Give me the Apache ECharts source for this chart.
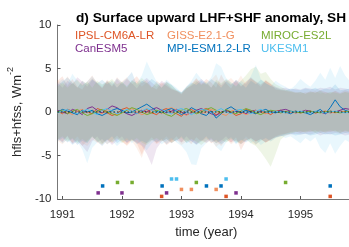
<!DOCTYPE html>
<html>
<head>
<meta charset="UTF-8">
<title>LHF+SHF anomaly SH</title>
<script src="https://cdn.jsdelivr.net/npm/echarts@6/dist/echarts.min.js"></script>
<style>
    html, body { margin: 0; padding: 0; background: #fff; }
    #chart { width: 349px; height: 247px; }
</style>
</head>
<body>
<div id="chart"></div>
<script>
// model names, in legend order (column by column)
var models = ['IPSL-CM6A-LR', 'CanESM5', 'GISS-E2.1-G', 'MPI-ESM1.2-LR', 'MIROC-ES2L', 'UKESM1'];
var colors = ['#DE5526', '#7E2F8E', '#F08F5E', '#0072BD', '#77AC30', '#4DBEEE'];
var xTicks = [1991, 1992, 1993, 1994, 1995];

// monthly time axis, Dec 1990 .. Dec 1995
var startYear = 1990 + 11 / 12;
var nMonths = 61;

// ensemble spread: upper / lower bounds per model (W m-2)
var upper = {
    'IPSL-CM6A-LR': [3.6,4.1,3.0,3.8,2.9,2.6,3.5,4.2,3.3,2.7, 3.6,3.0,4.0,3.4,2.8,3.6,4.1,3.3,3.7,2.9, 2.6,3.4,3.0,2.6,2.4,2.0,2.7,3.1,3.9,3.2, 3.8,3.4,2.8,4.3,3.3,2.7,3.7,3.0,3.5,3.9, 3.4,2.9,3.6,3.2,2.6,2.5,2.4,2.3,2.2,2.3, 2.1,2.4,2.2,2.5,2.3,2.1,2.4,2.2,2.5,2.3,2.2],
    'CanESM5':      [3.4,2.8,3.6,3.2,4.0,3.5,2.9,3.7,3.3,2.8, 3.5,2.9,3.8,3.2,3.8,3.3,2.7,3.5,3.9,3.4, 2.9,3.6,3.2,2.7,2.4,2.2,2.7,3.0,3.4,3.8, 3.3,2.8,3.5,3.1,3.7,3.2,3.6,2.9,3.4,4.0, 3.5,3.1,3.6,3.2,2.9,2.7,2.8,2.6,2.7,2.6, 2.8,2.7,2.6,2.8,2.7,2.9,2.6,2.8,2.7,2.6,2.8],
    'GISS-E2.1-G':  [3.7,3.1,4.1,3.3,2.8,3.6,3.2,3.9,3.4,2.9, 3.7,3.3,2.8,3.5,4.0,3.2,3.6,2.9,3.4,2.8, 3.6,3.2,3.5,2.8,2.5,2.1,2.9,3.3,3.8,3.4, 3.1,3.7,4.3,3.0,3.5,3.9,3.3,4.2,3.2,3.8, 3.5,3.2,3.7,3.3,2.8,2.6,2.5,2.4,2.3,2.1, 2.3,2.2,2.4,2.1,2.3,2.2,2.4,2.1,2.3,2.2,2.1],
    'MPI-ESM1.2-LR':[3.1,3.5,4.0,3.4,2.8,3.6,3.2,3.8,3.3,3.7, 3.2,3.6,2.8,3.4,3.9,4.6,3.1,3.6,3.3,3.8, 3.4,2.8,3.5,3.1,2.6,2.3,2.9,3.4,3.1,3.6, 3.2,3.8,3.4,2.8,3.5,3.1,3.7,3.3,2.8,3.6, 3.2,3.7,3.3,3.0,2.8,2.6,2.5,2.7,2.6,2.5, 2.7,2.6,2.8,2.5,2.7,2.6,3.2,2.5,2.6,2.7,2.5],
    'MIROC-ES2L':   [2.9,3.4,2.8,3.3,3.7,3.1,3.5,2.8,3.6,3.2, 3.4,3.8,3.2,3.5,2.9,3.6,3.3,3.9,3.4,2.8, 3.3,2.8,3.4,3.1,2.5,2.2,2.8,3.2,3.6,3.1, 3.5,2.8,3.7,3.3,3.8,3.4,2.9,3.6,4.2,4.9, 5.2,4.4,4.6,3.8,3.2,2.9,2.6,2.4,2.2,2.3, 2.1,2.3,2.2,2.4,2.1,2.3,2.2,2.1,2.3,2.2,2.1],
    'UKESM1':       [3.3,3.8,3.2,4.4,3.6,3.0,3.5,4.1,3.4,3.1, 3.6,3.2,3.9,3.4,3.0,3.7,3.3,4.2,5.8,4.6, 3.5,3.1,3.7,3.2,2.8,2.2,2.9,3.6,4.5,3.8, 3.3,4.0,5.6,5.2,3.9,3.4,3.0,3.6,3.2,4.1, 5.4,3.8,3.3,3.0,3.6,3.2,2.9,2.6,3.1,3.8, 3.3,2.9,3.6,4.5,3.7,5.1,3.9,5.3,4.2,3.5,4.0]
};
var lower = {
    'IPSL-CM6A-LR': [-3.0,-3.4,-2.7,-3.6,-3.2,-3.9,-3.3,-2.8,-3.5,-3.1, -3.7,-3.3,-2.7,-3.4,-3.8,-3.2,-3.6,-4.9,-3.5,-2.9, -3.6,-3.2,-3.8,-3.4,-2.8,-3.5,-3.2,-3.7,-2.9,-3.4, -3.0,-3.6,-3.3,-3.9,-3.2,-3.5,-2.9,-4.4,-3.3,-3.0, -3.4,-3.1,-3.5,-3.2,-2.8,-2.6,-2.5,-2.3,-2.2,-2.4, -2.2,-2.3,-2.1,-2.4,-2.2,-2.3,-2.1,-2.4,-2.2,-2.3,-2.2],
    'CanESM5':      [-3.1,-3.5,-2.8,-3.7,-3.3,-3.9,-4.6,-3.4,-2.8,-3.6, -3.2,-3.8,-3.3,-2.8,-3.6,-3.2,-3.5,-3.9,-4.8,-6.1, -4.2,-3.4,-3.1,-3.6,-3.2,-3.5,-2.8,-3.4,-3.7,-3.2, -3.5,-3.1,-3.6,-3.3,-2.8,-3.5,-3.2,-3.7,-3.3,-3.0, -3.4,-3.1,-3.5,-3.2,-2.9,-2.8,-2.7,-2.6,-2.5,-2.6, -2.5,-2.6,-2.4,-2.7,-2.5,-2.6,-2.4,-2.5,-2.7,-2.6,-2.5],
    'GISS-E2.1-G':  [-3.3,-3.7,-3.1,-3.5,-2.8,-3.6,-3.9,-3.2,-3.5,-3.8, -3.2,-3.6,-3.1,-3.4,-3.9,-3.3,-4.2,-5.3,-3.6,-3.2, -3.7,-3.3,-2.8,-3.5,-3.2,-3.8,-3.4,-3.1,-3.7,-3.3, -3.6,-3.2,-4.0,-3.5,-3.1,-3.7,-3.3,-3.6,-2.8,-3.4, -3.8,-3.2,-3.5,-3.1,-2.9,-2.7,-2.5,-2.4,-2.3,-2.2, -2.4,-2.2,-2.3,-2.1,-2.4,-2.2,-2.3,-2.1,-2.4,-2.2,-2.3],
    'MPI-ESM1.2-LR':[-3.4,-3.0,-3.5,-3.1,-3.8,-3.3,-3.6,-2.8,-3.4,-3.9, -3.3,-2.8,-3.6,-3.2,-3.5,-3.1,-3.7,-3.3,-3.6,-3.2, -3.5,-3.1,-3.7,-3.2,-3.4,-2.8,-3.6,-3.3,-3.8,-3.4, -2.8,-3.5,-3.2,-3.7,-3.3,-2.9,-3.6,-3.2,-3.5,-3.1, -3.7,-3.3,-3.0,-3.4,-3.0,-2.8,-2.6,-2.5,-2.7,-2.6, -2.5,-2.7,-2.6,-2.4,-2.6,-2.5,-2.7,-2.6,-2.4,-2.5,-2.6],
    'MIROC-ES2L':   [-3.2,-2.8,-3.4,-3.0,-3.6,-3.1,-3.5,-2.9,-3.3,-3.7, -3.1,-3.5,-3.0,-3.6,-3.2,-3.4,-3.0,-3.5,-3.8,-3.3, -3.0,-3.4,-3.1,-3.6,-3.2,-3.0,-3.5,-3.1,-3.4,-3.8, -3.3,-3.0,-3.6,-3.2,-3.5,-3.1,-3.4,-3.7,-3.2,-3.6, -3.9,-4.6,-5.4,-6.3,-4.8,-3.2,-2.7,-2.5,-2.3,-2.2, -2.3,-2.1,-2.4,-2.2,-2.3,-2.1,-2.2,-2.4,-2.1,-2.3,-2.2],
    'UKESM1':       [-3.0,-3.6,-3.2,-3.8,-3.4,-4.3,-5.9,-4.1,-3.5,-3.1, -3.7,-3.3,-3.9,-3.4,-3.0,-3.6,-3.2,-3.8,-4.4,-3.6, -3.2,-3.7,-3.3,-3.0,-3.5,-3.9,-4.6,-6.0,-6.1,-4.2, -3.6,-3.2,-4.0,-4.5,-3.5,-3.1,-3.7,-3.3,-3.0,-3.6, -3.2,-3.8,-3.4,-3.1,-2.9,-2.7,-3.0,-2.8,-3.2,-3.6, -3.0,-3.4,-2.9,-4.1,-4.7,-3.6,-4.8,-3.9,-3.2,-3.5,-3.0]
};

// ensemble mean anomaly per model
var mean = {
    'IPSL-CM6A-LR': [0.1,-0.2,0.3,0.1,-0.3,0.2,0.0,-0.2,0.4,0.2, -0.1,-0.4,-0.2,0.3,0.5,0.1,-0.2,0.0,0.3,-0.1, -0.3,0.2,0.4,0.0,-0.2,-0.5,0.1,0.3,-0.1,0.2, 0.4,0.1,-0.3,-0.1,0.2,0.0,-0.4,-0.2,0.3,0.1, -0.2,0.2,0.0,-0.3,0.1,0.2,-0.1,0.0,0.1,-0.1, 0.0,0.1,-0.1,0.0,0.1,-0.1,0.0,0.1,0.0,-0.1,0.0],
    'CanESM5':      [0.2,0.0,-0.2,0.3,0.1,-0.3,0.4,0.6,0.2,-0.1, 0.3,0.7,0.5,0.1,-0.2,-0.4,-0.1,0.2,0.0,0.3, 0.5,0.2,-0.1,0.1,0.3,0.0,-0.3,-0.1,0.2,0.4, 0.1,-0.2,-0.4,0.0,0.2,-0.1,0.1,0.0,-0.2,0.1, 0.2,0.0,-0.1,0.1,0.0,0.2,0.3,0.1,-0.1,0.0, 0.2,0.1,-0.1,0.0,-0.2,0.1,0.0,0.2,0.4,0.3,0.1],
    'GISS-E2.1-G':  [-0.1,0.2,0.0,-0.3,0.1,0.3,-0.1,0.2,0.0,-0.2, 0.3,0.1,-0.3,-0.1,0.2,0.4,0.0,-0.3,-0.1,0.2, 0.1,-0.2,0.3,0.5,0.2,-0.1,-0.4,0.0,0.2,-0.2, 0.0,0.3,0.1,-0.2,-0.4,0.1,0.3,0.0,-0.3,-0.1, 0.2,0.0,-0.2,0.1,0.0,-0.1,0.1,0.0,-0.1,0.0, 0.1,0.0,-0.1,0.0,0.1,0.0,-0.1,0.0,0.1,0.0,-0.1],
    'MPI-ESM1.2-LR':[0.0,0.3,0.1,-0.1,-0.3,0.2,0.0,0.2,-0.2,-0.4, -0.1,0.2,0.4,0.2,-0.1,0.0,0.3,0.6,0.9,0.5, 0.1,-0.1,0.2,0.4,0.1,-0.3,0.0,0.5,0.2,-0.2, -0.4,0.1,-0.7,-0.2,0.3,0.6,0.2,-0.1,0.2,0.0, -0.2,0.1,0.3,0.0,-0.1,0.1,0.0,-0.2,0.1,0.0, -0.1,-0.3,0.0,0.3,-0.2,0.5,1.4,0.6,0.2,0.0,-0.3],
    'MIROC-ES2L':   [0.0,0.2,-0.2,0.1,0.3,-0.1,-0.4,-0.2,0.1,0.3, 0.0,-0.2,-0.4,-0.1,0.2,0.5,0.3,0.0,-0.3,-0.1, 0.2,0.0,-0.3,-0.5,-0.1,0.2,0.4,0.1,-0.2,0.0, 0.3,0.5,0.2,-0.1,0.3,0.0,-0.2,0.1,0.4,0.2, -0.1,-0.3,0.0,0.2,0.1,-0.1,0.0,0.1,0.0,-0.1, 0.0,0.1,0.0,-0.1,0.0,0.1,0.0,-0.1,0.0,0.1,0.0],
    'UKESM1':       [-0.1,0.1,0.3,0.0,-0.2,0.1,0.3,0.0,-0.3,0.2, 0.4,0.1,-0.2,0.0,0.3,0.1,-0.2,0.1,0.4,0.2, -0.1,0.3,0.0,-0.2,0.2,0.4,0.1,-0.3,0.0,0.3, 0.2,-0.1,0.1,0.4,0.0,-0.2,0.2,0.3,0.0,-0.2, 0.1,0.3,0.0,-0.1,0.1,0.0,-0.1,0.1,0.0,0.1, 0.0,-0.1,0.1,0.0,-0.1,0.0,0.1,0.0,-0.1,0.0,0.1]
};

// event markers along the bottom: times (year) and row level per model
var eventTimes = {
    'IPSL-CM6A-LR': [1992.667, 1993.75, 1995.5],
    'CanESM5':      [1991.6, 1992.0, 1992.75, 1993.917],
    'GISS-E2.1-G':  [1993.0, 1993.167, 1993.583],
    'MPI-ESM1.2-LR':[1991.675, 1992.675, 1993.42, 1993.665, 1995.5],
    'MIROC-ES2L':   [1991.925, 1992.17, 1993.25, 1994.75],
    'UKESM1':       [1992.833, 1992.917, 1993.75]
};
var eventLevel = [-9.7, -9.3, -8.9, -8.5, -8.1, -7.7];

var months = [];
for (var i = 0; i < nMonths; i++) months.push(startYear + i / 12);
var xMin = months[0], xMax = months[nMonths - 1];

function hexAlpha(hex, a) {
    var n = parseInt(hex.slice(1), 16);
    return 'rgba(' + (n >> 16) + ',' + ((n >> 8) & 255) + ',' + (n & 255) + ',' + a + ')';
}

var series = [];

// shaded spread, one polygon per model
models.forEach(function (m, k) {
    series.push({
        name: m,
        type: 'custom',
        z: 1,
        clip: true,
        silent: true,
        data: [[months[0], 0]],
        renderItem: function (params, api) {
            var pts = [];
            for (var j = 0; j < nMonths; j++) pts.push(api.coord([months[j], upper[m][j]]));
            for (var j = nMonths - 1; j >= 0; j--) pts.push(api.coord([months[j], lower[m][j]]));
            return {
                type: 'polygon',
                shape: { points: pts },
                style: { fill: hexAlpha(colors[k], 0.12), stroke: null }
            };
        }
    });
});

// mean lines
models.forEach(function (m, k) {
    series.push({
        name: m,
        type: 'line',
        z: 3,
        symbol: 'none',
        data: months.map(function (t, j) { return [t, mean[m][j]]; }),
        lineStyle: { color: colors[k], width: 1 },
        itemStyle: { color: colors[k] }
    });
});

// zero line
series.push({
    type: 'line',
    z: 4,
    symbol: 'none',
    silent: true,
    data: [[xMin, 0], [xMax, 0]],
    lineStyle: { color: '#1f2a18', width: 1, type: [1.5, 2] }
});

// event markers
models.forEach(function (m, k) {
    series.push({
        name: m,
        type: 'scatter',
        z: 5,
        symbol: 'rect',
        symbolSize: 3.5,
        data: eventTimes[m].map(function (t) { return [t, eventLevel[k]]; }),
        itemStyle: { color: colors[k], opacity: 1 }
    });
});

function legendCol(names, left) {
    return {
        orient: 'vertical',
        left: left,
        top: 25,
        icon: 'none',
        itemWidth: 0,
        itemHeight: 10,
        itemGap: 1,
        selectedMode: false,
        data: names.map(function (n) {
            return { name: n, textStyle: { color: colors[models.indexOf(n)] } };
        }),
        textStyle: { fontFamily: 'Liberation Sans', fontSize: 11.5 }
    };
}

var chart = echarts.init(document.getElementById('chart'), null, { renderer: 'canvas' });
chart.setOption({
    animation: false,
    backgroundColor: '#fff',
    title: {
        text: 'd) Surface upward LHF+SHF anomaly, SH',
        left: 206,
        textAlign: 'center',
        top: 6,
        textStyle: { fontFamily: 'Liberation Sans', fontSize: 13.7, fontWeight: 'bold', color: '#000' }
    },
    legend: [
        legendCol(['IPSL-CM6A-LR', 'CanESM5'], 65),
        legendCol(['GISS-E2.1-G', 'MPI-ESM1.2-LR'], 157),
        legendCol(['MIROC-ES2L', 'UKESM1'], 251)
    ],
    grid: { left: 57.5, top: 25, right: -6, bottom: 48, containLabel: false, outerBoundsMode: 'none' },
    xAxis: {
        type: 'value',
        min: xMin,
        max: xMax,
        splitLine: { show: false },
        axisLine: { onZero: false, lineStyle: { color: '#777', width: 1 } },
        axisTick: { inside: true, length: 3, lineStyle: { color: '#555' }, customValues: xTicks },
        axisLabel: {
            margin: 10,
            fontFamily: 'Liberation Sans', fontSize: 11.5, color: '#262626',
            customValues: xTicks,
            formatter: function (v) { return String(Math.round(v)); }
        },
        name: 'time (year)',
        nameLocation: 'middle',
        nameGap: 27,
        nameTextStyle: { fontFamily: 'Liberation Sans', fontSize: 13, color: '#262626' }
    },
    yAxis: {
        type: 'value',
        min: -10,
        max: 10,
        interval: 5,
        splitLine: { show: false },
        axisLine: { show: true, lineStyle: { color: '#777', width: 1 } },
        axisTick: { show: true, inside: true, length: 3, lineStyle: { color: '#555' } },
        axisLabel: { margin: 6, fontFamily: 'Liberation Sans', fontSize: 11.5, color: '#262626' },
        name: '{a|hfls+hfss, Wm}{b|-2}',
        nameLocation: 'middle',
        nameRotate: 90,
        nameGap: 24,
        nameTextStyle: {
            rich: {
                a: { fontFamily: 'Liberation Sans', fontSize: 13, color: '#262626', lineHeight: 18, verticalAlign: 'bottom' },
                b: { fontFamily: 'Liberation Sans', fontSize: 9, color: '#262626', lineHeight: 18, verticalAlign: 'top' }
            }
        }
    },
    series: series
});
</script>
</body>
</html>
